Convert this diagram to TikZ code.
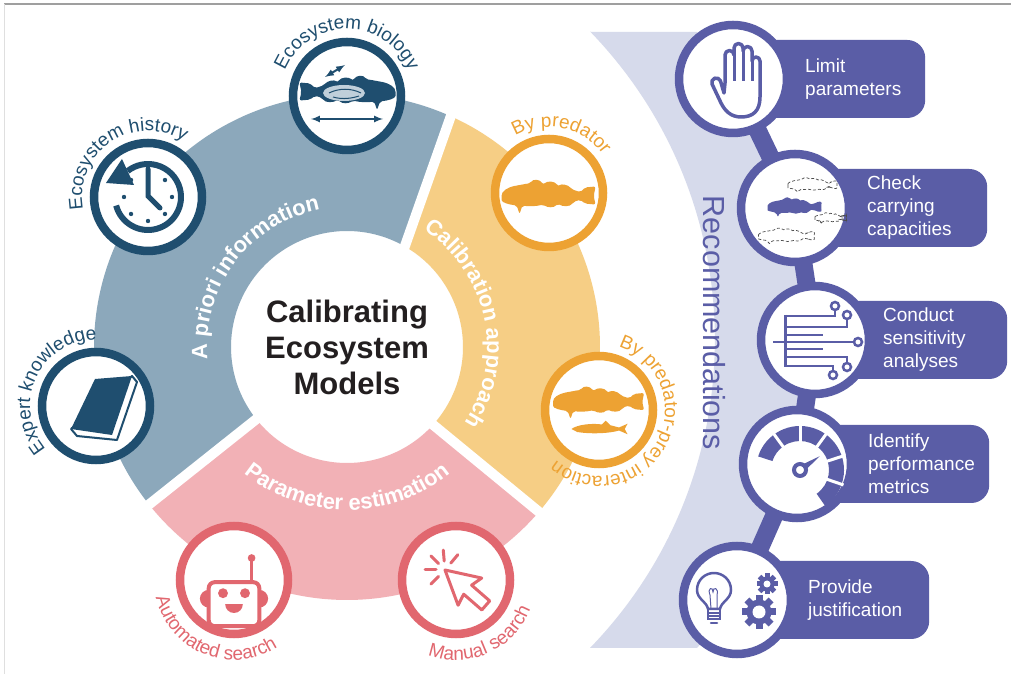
\documentclass[tikz,border=0pt]{standalone}
\usepackage{fontspec}
\setmainfont{Liberation Sans}
\usetikzlibrary{shapes,arrows,decorations.text}

\definecolor{navy}{HTML}{1F4E6F}
\definecolor{bandblue}{HTML}{8CA8BB}
\definecolor{bandorange}{HTML}{F6CE85}
\definecolor{orangeic}{HTML}{EDA233}
\definecolor{bandpink}{HTML}{F2B1B6}
\definecolor{pinkic}{HTML}{E1676F}
\definecolor{purp}{HTML}{5A5DA6}
\definecolor{lavender}{HTML}{D6DAEB}
\definecolor{titlegray}{HTML}{231F20}

\newcommand\bandfont{\fontsize{22}{26}\selectfont\bfseries\color{white}}
\newcommand\navyfont{\fontsize{19}{22}\selectfont\color{navy}}
\newcommand\orangefont{\fontsize{19}{22}\selectfont\color{orangeic}}
\newcommand\pinkfont{\fontsize{19}{22}\selectfont\color{pinkic}}

\tikzset{
  ring/.style={circle, draw=#1, line width=8.5pt, fill=white, minimum size=108pt, inner sep=0pt},
  seam/.style={white, line width=10pt},
  chainbar/.style={purp, line width=18pt},
  recbox/.style={rectangle, fill=purp, rounded corners=18pt, minimum width=192pt, minimum height=78pt, inner sep=0pt, anchor=west},
  rectext/.style={anchor=west, align=left, text=white, inner sep=0pt, font=\fontsize{19}{23}\selectfont},
  curved text/.style={decorate, decoration={text along path, text={#1}, text align=center}},
  dashfish/.style={draw=gray!60!black, line width=.7pt, densely dashed},
  % cod silhouette, head to the left
  pics/cod/.style={code={
    \path[pic actions, rounded corners=2pt] (-50,-2) .. controls (-50,5) and (-44,9) .. (-34,11)
      .. controls (-28,12) and (-24,13) .. (-20,13)
      .. controls (-17,18) and (-10,18) .. (-6,12)
      .. controls (-2,16) and (6,16) .. (10,10)
      .. controls (13,13) and (20,12) .. (24,7)
      -- (33,4) -- (38,9) -- (49,10) -- (47,0) -- (49,-9) -- (38,-8) -- (33,-4)
      -- (26,-6) .. controls (22,-12) and (14,-11) .. (9,-8)
      .. controls (5,-13) and (-2,-12) .. (-6,-9)
      .. controls (-14,-11) and (-22,-11) .. (-28,-10)
      -- (-31,-19) -- (-34,-10)
      .. controls (-42,-9) and (-50,-7) .. (-50,-2) -- cycle;
  }},
  % small prey fish
  pics/herring/.style={code={
    \path[pic actions] (-30,0) .. controls (-24,6) and (-8,8) .. (2,6)
      -- (6,11) -- (11,5) .. controls (15,4) .. (20,2)
      -- (29,7) -- (26,0) -- (29,-7) -- (20,-2)
      .. controls (10,-6) and (-10,-7) .. (-24,-4)
      .. controls (-27,-3) .. (-30,0) -- cycle;
  }},
}

\begin{document}
\begin{tikzpicture}[x=1pt, y=1pt]
\useasboundingbox (0,0) rectangle (1011,674);
\fill[white] (0,0) rectangle (1011,674);
\draw[gray!75, line width=1.2pt] (4,670) -- (1011,670);
\draw[gray!25, line width=1pt] (4,670) -- (4,0);

\coordinate (C) at (347,327);

% band behind the recommendation chain
\fill[lavender] (590,642) -- (697,642) arc[start angle=42.26, end angle=-42.26, radius=458]
  -- (590,26) arc[start angle=-44.1, end angle=44.1, radius=443] -- cycle;

% three sectors of the wheel
\begin{scope}[shift={(C)}]
  \fill[bandblue] (66:253) arc[start angle=66, end angle=218.5, radius=253]
    -- (218.5:116) arc[start angle=218.5, end angle=59, radius=116] -- cycle;
  \fill[bandorange] (-40.6:253) arc[start angle=-40.6, end angle=66, radius=253]
    -- (59:116) arc[start angle=59, end angle=-42.4, radius=116] -- cycle;
  \fill[bandpink] (218.5:253) arc[start angle=218.5, end angle=319.4, radius=253]
    -- (317.6:116) arc[start angle=317.6, end angle=218.5, radius=116] -- cycle;
  \draw[seam] (59:105) -- (66:265);
  \draw[seam] (218.5:105) -- (218.5:265);
  \draw[seam] (-42.4:105) -- (-40.6:265);

  \path[curved text={|\bandfont|A priori information}] (193:140) arc[start angle=193, end angle=93, radius=140];
  \path[curved text={|\bandfont|Calibration approach}] (70:140) arc[start angle=70, end angle=-46, radius=140];
  \path[curved text={|\bandfont|Parameter estimation}] (212:163) arc[start angle=212, end angle=328, radius=163];
\end{scope}

\node[align=center, text=titlegray, font=\fontsize{31}{36}\selectfont\bfseries] (title) at (C) {Calibrating\\Ecosystem\\Models};

% icons around the wheel
\node[ring=navy] (bio) at (347,578) {};
\node[ring=navy] (hist) at (148,477) {};
\node[ring=navy] (expert) at (96,268) {};
\node[ring=orangeic] (pred) at (549,481) {};
\node[ring=orangeic] (prey) at (599,264) {};
\node[ring=pinkic] (auto) at (234,94) {};
\node[ring=pinkic] (manual) at (456,94) {};

\path[curved text={|\navyfont|Ecosystem biology}] ([shift={(175:67)}]bio.center) arc[start angle=175, end angle=5, radius=67];
\path[curved text={|\navyfont|Ecosystem history}] ([shift={(209:66)}]hist.center) arc[start angle=209, end angle=39, radius=66];
\path[curved text={|\navyfont|Expert knowledge}] ([shift={(240:66)}]expert.center) arc[start angle=240, end angle=70, radius=66];
\path[curved text={|\orangefont|By predator}] ([shift={(138:66)}]pred.center) arc[start angle=138, end angle=18, radius=66];
\path[curved text={|\orangefont|By predator-prey interaction}] ([shift={(83:66)}]prey.center) arc[start angle=83, end angle=-141, radius=66];
\path[curved text={|\pinkfont|Automated search}] ([shift={(165:80)}]auto.center) arc[start angle=165, end angle=331, radius=80];
\path[curved text={|\pinkfont|Manual search}] ([shift={(211:80)}]manual.center) arc[start angle=211, end angle=377, radius=80];

% fish with organs
\begin{scope}[shift={(bio.center)}]
  \pic[fill=navy, xscale=-.97, yscale=.95] at (0,4) {cod};
  \fill[bandblue!55!white] (-3,3) ellipse (21 and 8);
  \draw[navy, line width=1pt] (-18,3) .. controls (-8,8) and (4,8) .. (14,3);
  \draw[navy, line width=1pt] (-14,-1) .. controls (-4,-4) and (6,-2) .. (12,0);
  \draw[navy, line width=2pt, <->, >=latex] (-36,-23) -- (36,-23);
  \draw[navy, line width=2pt, <->, >=latex] (-22,19) -- (-2,31);
\end{scope}

% clock with arrow
\begin{scope}[shift={(hist.center)}, navy]
  \draw[line width=6pt] (-165:33) arc[start angle=-165, end angle=128, radius=33];
  \fill (-42,14) -- (-14,12) -- (-26,38) -- cycle;
  \draw[line width=5pt, line cap=round] (0,28) -- (0,1) -- (12,-11);
  \foreach \a in {0,45,135,180,225,270,315}
    \fill (\a:24) circle (2.2);
\end{scope}

% book
\begin{scope}[shift={(expert.center)}]
  \draw[navy, line width=2pt, fill=white, line join=round] (36,30) -- (41,24) -- (21,-34) -- (-19,-30) -- (-25,-23) -- cycle;
  \fill[navy] (-1,27) -- (36,30) -- (16,-29) -- (-25,-23) -- cycle;
\end{scope}

% predator fish
\pic[fill=orangeic, xscale=.95, yscale=.95] at ([yshift=-3pt]pred.center) {cod};
\pic[fill=orangeic, xscale=.92, yscale=.9] at ([yshift=8pt]prey.center) {cod};
\pic[fill=orangeic, xscale=.95, yscale=.75] at ([xshift=1pt, yshift=-19pt]prey.center) {herring};

% robot
\begin{scope}[shift={(auto.center)}, scale=1.1, pinkic]
  \draw[line width=4pt, rounded corners=6pt] (-23,-2) rectangle (23,-42);
  \fill (-23,-9) arc[start angle=90, end angle=270, radius=8];
  \fill (23,-25) arc[start angle=-90, end angle=90, radius=8];
  \fill (-10,-12) circle (4.5);
  \fill (10,-12) circle (4.5);
  \fill (-8,-22) arc[start angle=180, end angle=360, radius=8] -- cycle;
  \draw[line width=3pt] (16,-2) -- (16,17);
  \fill (16,20) circle (3.5);
\end{scope}

% cursor click
\begin{scope}[shift={(manual.center)}, pinkic]
  \begin{scope}[shift={(-11,10)}]
    \foreach \a in {50,95,135,180,225}
      \draw[line width=3pt, line cap=round] (\a:9) -- (\a:20);
    \draw[line width=3pt, line join=round, fill=white, rotate=49]
      (0,0) -- (18,-33) -- (6,-30) -- (6,-54) -- (-6,-54) -- (-6,-30) -- (-18,-33) -- cycle;
  \end{scope}
\end{scope}

% recommendation chain
\node[rotate=-90, text=purp, font=\fontsize{30.5}{33}\selectfont] (recs) at (714,351) {Recommendations};

\coordinate (r1) at (733,595);
\coordinate (r2) at (795,466);
\coordinate (r3) at (815,334);
\coordinate (r4) at (797,210);
\coordinate (r5) at (737,74);
\draw[chainbar] (r1) -- (r2) -- (r3) -- (r4) -- (r5);

\node[recbox] (b1) at (r1) {};
\node[recbox] (b2) at (r2) {};
\node[recbox] (b3) at (r3) {};
\node[recbox] (b4) at (r4) {};
\node[recbox] (b5) at (r5) {};

\node[ring=purp] (lim) at (r1) {};
\node[ring=purp] (chk) at (r2) {};
\node[ring=purp] (con) at (r3) {};
\node[ring=purp] (ident) at (r4) {};
\node[ring=purp] (prov) at (r5) {};

\node[rectext] at ([xshift=72pt]r1) {Limit\\parameters};
\node[rectext] at ([xshift=72pt]r2) {Check\\carrying\\capacities};
\node[rectext] at ([xshift=68pt]r3) {Conduct\\sensitivity\\analyses};
\node[rectext] at ([xshift=71pt]r4) {Identify\\performance\\metrics};
\node[rectext] at ([xshift=71pt]r5) {Provide\\justification};

% hand
\begin{scope}[shift={(lim.center)}]
  \draw[purp, line width=3.5pt, line join=round, fill=white]
    (-8,-4) -- (-8,24) arc[start angle=180, end angle=0, radius=4.5]
    -- (1,31) arc[start angle=180, end angle=0, radius=4.5]
    -- (10,28) arc[start angle=180, end angle=0, radius=4.5]
    -- (19,18) arc[start angle=180, end angle=0, radius=4]
    -- (27,-18) .. controls (27,-32) and (20,-38) .. (8,-38)
    .. controls (-2,-38) and (-8,-32) .. (-12,-24)
    -- (-21,-5) arc[start angle=200, end angle=20, radius=4.5]
    -- (-9,-14) -- cycle;
  \draw[purp, line width=3pt] (1,24) -- (1,-2) (10,28) -- (10,-2) (19,18) -- (19,-2);
\end{scope}

% fish stocks
\begin{scope}[shift={(chk.center)}]
  \pic[dashfish, xscale=.5, yscale=.42] at (18,23) {cod};
  \pic[dashfish, xscale=.32, yscale=.28] at (36,-10) {cod};
  \pic[dashfish, xscale=.57, yscale=.45] at (-8,-28) {cod};
  \pic[fill=purp, xscale=.55, yscale=.55] at (0,1) {cod};
\end{scope}

% circuit
\begin{scope}[shift={(con.center)}, purp]
  \draw[line width=3pt] (-30,25) -- (-30,-27);
  \draw[line width=2.5pt] (-42,-2) -- (39,-2);
  \draw[line width=2.5pt] (-30,24) -- (20,24) -- (20,30);
  \draw[line width=2.5pt] (-30,13) -- (32,13) -- (32,21);
  \draw[line width=2.5pt] (-30,5) -- (8,5);
  \draw[line width=2.5pt] (-30,-9) -- (8,-9);
  \draw[line width=2.5pt] (-30,-17) -- (32,-17) -- (32,-23);
  \draw[line width=2.5pt] (-30,-26) -- (18,-26) -- (18,-31);
  \foreach \p in {(20,34),(32,25),(43,-2),(32,-27),(18,-35)}
    \draw[line width=2.5pt, fill=white] \p circle (4);
\end{scope}

% gauge
\begin{scope}[shift={(ident.center)}, purp]
  \begin{scope}[shift={(3,-6)}]
    \fill (162:44) arc[start angle=162, end angle=-55, radius=44]
      -- (-55:29) arc[start angle=-55, end angle=162, radius=29] -- cycle;
    \foreach \a in {126,90,54,18,-19}
      \draw[white, line width=3pt] (\a:27) -- (\a:46);
    \fill (125:4) -- (35:24) -- (-55:4) -- cycle;
    \draw[line width=4pt, fill=white] (0,0) circle (6);
  \end{scope}
\end{scope}

% bulb and gears
\begin{scope}[shift={(prov.center)}, purp]
  \draw[line width=2.5pt, line join=round] (-29,-9) .. controls (-30,-2) and (-40,1) .. (-40,10)
    .. controls (-40,20) and (-32,27) .. (-23,27) .. controls (-14,27) and (-6,20) .. (-6,10)
    .. controls (-6,1) and (-16,-2) .. (-17,-9) -- cycle;
  \draw[line width=2.5pt] (-29,-9) -- (-29,-19) -- (-17,-19) -- (-17,-9);
  \draw[line width=1.5pt] (-29,-13) -- (-17,-13) (-29,-16) -- (-17,-16);
  \draw[line width=2.5pt, line cap=round] (-26,-23) -- (-20,-23);
  \draw[line width=1pt] (-26,-9) -- (-27,5) .. controls (-30,12) and (-24,14) .. (-24,8)
    .. controls (-24,14) and (-18,12) .. (-20,5) -- (-20,-9);
  \begin{scope}[shift={(22,-12)}]
    \foreach \a in {0,45,...,315}
      \fill[rotate=\a] (-3.5,9) rectangle (3.5,17);
    \fill (0,0) circle (12.5);
    \fill[white] (0,0) circle (6.5);
  \end{scope}
  \begin{scope}[shift={(30,16)}]
    \foreach \a in {0,45,...,315}
      \fill[rotate=\a] (-2.5,5) rectangle (2.5,10.5);
    \fill (0,0) circle (7.5);
    \fill[white] (0,0) circle (3.5);
  \end{scope}
\end{scope}
\end{tikzpicture}
\end{document}
